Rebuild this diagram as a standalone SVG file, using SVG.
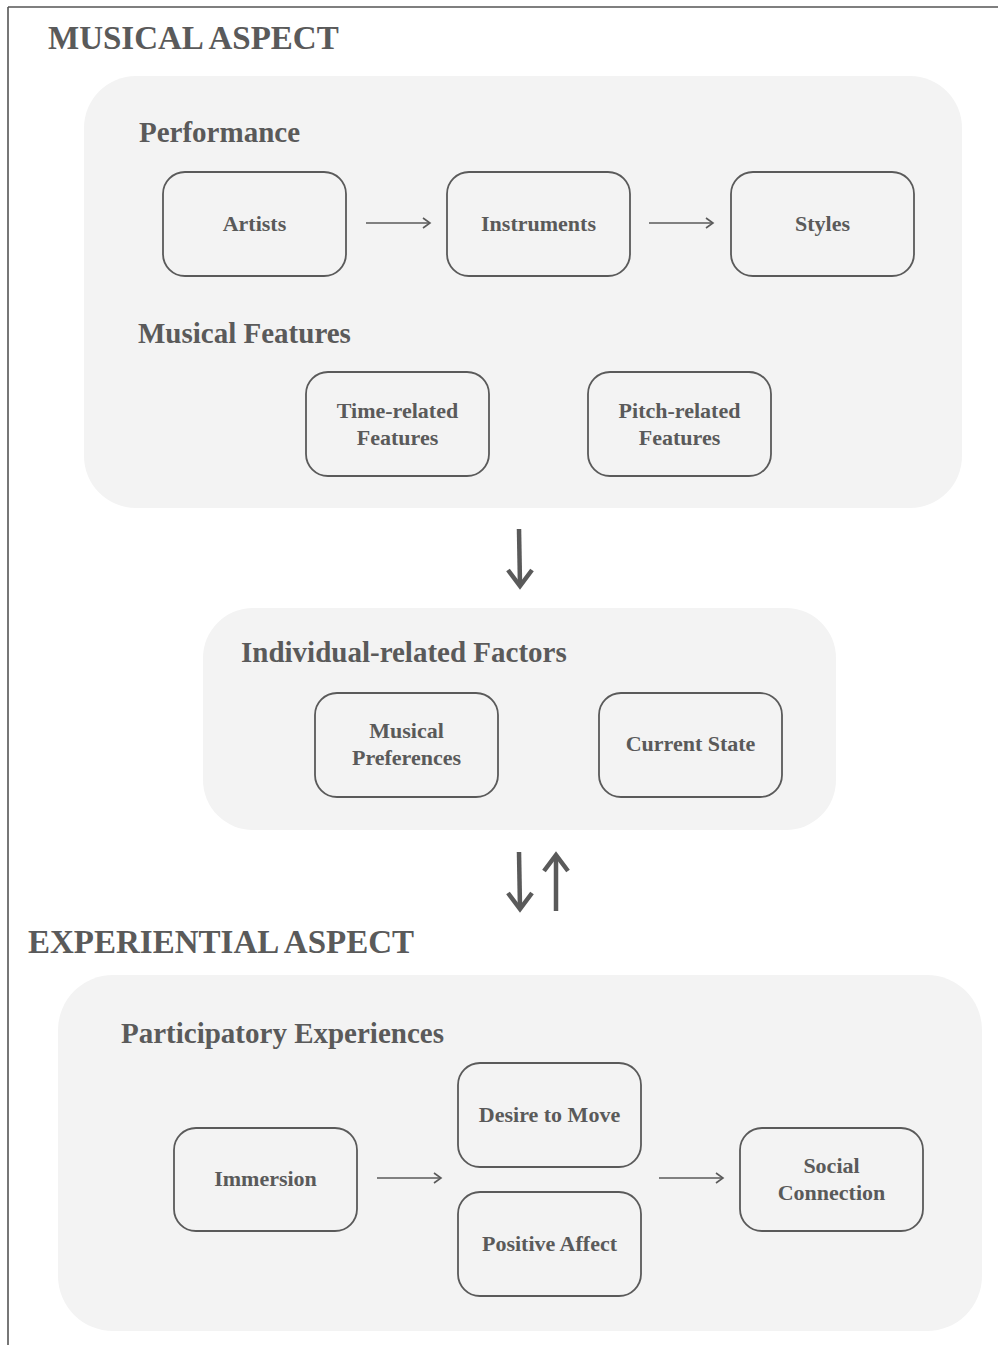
<svg xmlns="http://www.w3.org/2000/svg" width="998" height="1345" viewBox="0 0 998 1345">
<defs>
<style>
.panel{fill:#f3f3f3;stroke:none}
.node{fill:none;stroke:#5a5a5a;stroke-width:1.8}
.t{font-family:"Liberation Serif","Times New Roman",serif;font-weight:bold;fill:#5a5a5a}
.h1{font-size:33px}
.h2{font-size:29px}
.n{font-size:22px;text-anchor:middle}
.thin{stroke:#5a5a5a;stroke-width:1.6;fill:none}
.thick{stroke:#5a5a5a;stroke-width:4.5;fill:none;stroke-linecap:butt;stroke-linejoin:miter}
</style>
<marker id="ah" markerWidth="12" markerHeight="12" refX="9" refY="6" orient="auto" markerUnits="userSpaceOnUse">
<path d="M2,1 L9,6 L2,11" fill="none" stroke="#5a5a5a" stroke-width="1.6"/>
</marker>
</defs>
<rect width="998" height="1345" fill="#ffffff"/>
<g id="frame">
<line x1="8" y1="7" x2="998" y2="7" stroke="#555" stroke-width="1.6"/>
<line x1="8" y1="7" x2="8" y2="1345" stroke="#555" stroke-width="1.6"/>
</g>
<g id="musical-aspect">
<text class="t h1" x="48" y="49">MUSICAL ASPECT</text>
<rect class="panel" x="84" y="76" width="878" height="432" rx="52"/>
<text class="t h2" x="139" y="142">Performance</text>
<text class="t h2" x="138" y="343">Musical Features</text>
</g>
<g id="node-artists"><rect class="node" x="163" y="172" width="183" height="104" rx="22"/><text class="t n" x="254.5" y="231">Artists</text></g>
<g id="node-instruments"><rect class="node" x="447" y="172" width="183" height="104" rx="22"/><text class="t n" x="538.5" y="231">Instruments</text></g>
<g id="node-styles"><rect class="node" x="731" y="172" width="183" height="104" rx="22"/><text class="t n" x="822.5" y="231">Styles</text></g>
<g id="node-time"><rect class="node" x="306" y="372" width="183" height="104" rx="22"/><text class="t n" x="397.5" y="418">Time-related</text><text class="t n" x="397.5" y="445">Features</text></g>
<g id="node-pitch"><rect class="node" x="588" y="372" width="183" height="104" rx="22"/><text class="t n" x="679.5" y="418">Pitch-related</text><text class="t n" x="679.5" y="445">Features</text></g>
<g id="individual">
<rect class="panel" x="203" y="608" width="633" height="222" rx="50"/>
<text class="t h2" x="241" y="662">Individual-related Factors</text>
</g>
<g id="node-preferences"><rect class="node" x="315" y="693" width="183" height="104" rx="22"/><text class="t n" x="406.5" y="738">Musical</text><text class="t n" x="406.5" y="765">Preferences</text></g>
<g id="node-state"><rect class="node" x="599" y="693" width="183" height="104" rx="22"/><text class="t n" x="690.5" y="751">Current State</text></g>
<g id="experiential-aspect">
<text class="t h1" x="28" y="953">EXPERIENTIAL ASPECT</text>
<rect class="panel" x="58" y="975" width="924" height="356" rx="55"/>
<text class="t h2" x="121" y="1043">Participatory Experiences</text>
</g>
<g id="node-immersion"><rect class="node" x="174" y="1128" width="183" height="103" rx="22"/><text class="t n" x="265.5" y="1186">Immersion</text></g>
<g id="node-desire"><rect class="node" x="458" y="1063" width="183" height="104" rx="22"/><text class="t n" x="549.5" y="1122">Desire to Move</text></g>
<g id="node-affect"><rect class="node" x="458" y="1192" width="183" height="104" rx="22"/><text class="t n" x="549.5" y="1251">Positive Affect</text></g>
<g id="node-social"><rect class="node" x="740" y="1128" width="183" height="103" rx="22"/><text class="t n" x="831.5" y="1173">Social</text><text class="t n" x="831.5" y="1200">Connection</text></g>
<g id="connectors">
<line class="thin" x1="366" y1="223" x2="430" y2="223" marker-end="url(#ah)"/>
<line class="thin" x1="649" y1="223" x2="713" y2="223" marker-end="url(#ah)"/>
<line class="thin" x1="377" y1="1178" x2="441" y2="1178" marker-end="url(#ah)"/>
<line class="thin" x1="659" y1="1178" x2="723" y2="1178" marker-end="url(#ah)"/>
<path class="thick" d="M519,529 L520,585"/>
<path class="thick" d="M508,570 L520,586 L532,570"/>
<path class="thick" d="M519,852 L520,908"/>
<path class="thick" d="M508,893 L520,909 L532,893"/>
<path class="thick" d="M556,911 L556,856"/>
<path class="thick" d="M544,871 L556,855 L568,871"/>
</g>
</svg>
